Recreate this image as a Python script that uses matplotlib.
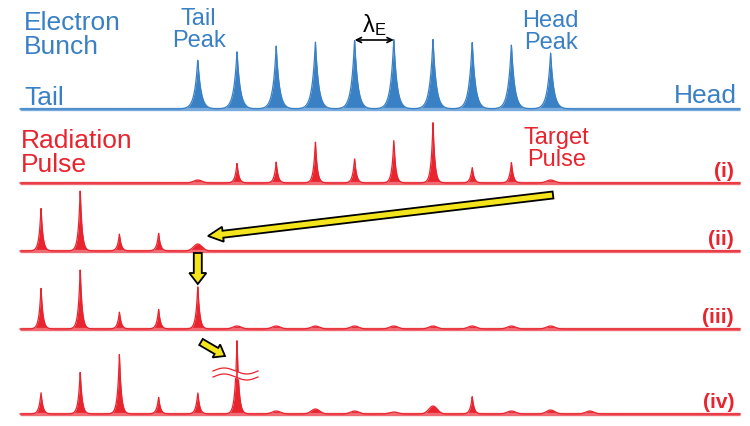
import numpy as np
import matplotlib
matplotlib.use("Agg")
import matplotlib.pyplot as plt

plt.rcParams["font.family"] = ["Liberation Sans", "DejaVu Sans"]
plt.rcParams["mathtext.fontset"] = "custom"
plt.rcParams["mathtext.rm"] = "Liberation Sans"

BLUE = "#3a80c4"
BLUE_LIGHT = "#79acdc"
RED = "#e8242e"
RED_LIGHT = "#ef6a72"
YELLOW = "#f3e41c"

# bunch spacing and slot positions (pixels along the bunch)
first_slot = 41.0
lambda_e = 39.2

# electron micro-bunches
electron_slots = [4, 5, 6, 7, 8, 9, 10, 11, 12, 13]
electron_heights = [50, 58, 63, 68, 70, 70, 70, 68, 65, 56]

# radiation pulses, panels (i)-(iv)
rad_i_slots = [4, 5, 6, 7, 8, 9, 10, 11, 12, 13]
rad_i_heights = [3, 20, 21, 42, 25, 43, 61, 16, 21, 3]

rad_ii_slots = [0, 1, 2, 3, 4]
rad_ii_heights = [44, 62, 17, 18, 7]

rad_iii_slots = [0, 1, 2, 3, 4, 5, 6, 7, 8, 9, 10, 11, 12, 13]
rad_iii_heights = [42, 61, 17, 20, 44, 3, 3, 3, 3, 3, 3, 3, 3, 3]

rad_iv_slots = [0, 1, 2, 3, 4, 5, 6, 7, 8, 9, 10, 11, 12, 13, 14]
rad_iv_heights = [22, 43, 60, 17, 22, 75, 3, 5, 3, 2, 8, 18, 3, 4, 3]

panel_labels = ["(i)", "(ii)", "(iii)", "(iv)"]

# baseline of each trace (pixel rows)
electron_base = 109
rad_bases = [183, 251, 329, 414]


def slot_x(s):
    return first_slot + lambda_e * s


def profile(x, slots, heights, width):
    y = np.zeros_like(x)
    for s, h in zip(slots, heights):
        dx = x - slot_x(s)
        if h > 8:
            y += h * np.exp(-np.abs(dx) / width)
        else:
            y += h * np.exp(-(dx / 6.0) ** 2)
    return y


def draw_trace(ax, slots, heights, base, color, light, width):
    x = np.linspace(20, 740, 4000)
    y = profile(x, slots, heights, width)
    ax.plot([20, 740], [base, base], color=light, lw=2.4, solid_capstyle="butt")
    ax.fill_between(x, base, base - y, color=color, lw=0)
    ax.plot(x, base - y, color=color, lw=0.9)


fig = plt.figure(figsize=(7.5, 4.26), dpi=100)
ax = fig.add_axes([0, 0, 1, 1])
ax.set_xlim(0, 750)
ax.set_ylim(426, 0)
ax.axis("off")

draw_trace(ax, electron_slots, electron_heights, electron_base, BLUE, BLUE_LIGHT, 3.2)

rad_sets = [
    (rad_i_slots, rad_i_heights),
    (rad_ii_slots, rad_ii_heights),
    (rad_iii_slots, rad_iii_heights),
    (rad_iv_slots, rad_iv_heights),
]
for (slots, heights), base, lab in zip(rad_sets, rad_bases, panel_labels):
    draw_trace(ax, slots, heights, base, RED, RED_LIGHT, 1.9)
    ax.text(734, base - 2, lab, color=RED, fontsize=15, fontweight="bold",
            ha="right", va="bottom")

# text labels
big = 19
small = 17
ax.text(24, 11, "Electron\nBunch", color=BLUE, fontsize=big, ha="left", va="top",
        linespacing=1.02)
ax.text(24, 105, "Tail", color=BLUE, fontsize=big, ha="left", va="baseline")
ax.text(737, 103, "Head", color=BLUE, fontsize=big, ha="right", va="baseline")
ax.text(slot_x(4) + 1, 8, "Tail\nPeak", color=BLUE, fontsize=small, ha="center", va="top",
        linespacing=0.98)
ax.text(slot_x(13), 10, "Head\nPeak", color=BLUE, fontsize=small, ha="center", va="top",
        linespacing=0.98)
ax.text(21, 129, "Radiation\nPulse", color=RED, fontsize=big, ha="left", va="top",
        linespacing=1.02)
ax.text(slot_x(13) + 6, 127, "Target\nPulse", color=RED, fontsize=small, ha="center",
        va="top", linespacing=0.98)

# lambda_E marker
ax.text(slot_x(8.5), 32, r"$\mathrm{\lambda_E}$", color="black", fontsize=17,
        ha="center", va="baseline")
ax.annotate("", xy=(slot_x(9), 40), xytext=(slot_x(8), 40),
            arrowprops=dict(arrowstyle="<->", color="black", lw=1.2,
                            shrinkA=0, shrinkB=0, mutation_scale=9))

# yellow arrows
arrow_kw = dict(length_includes_head=True, facecolor=YELLOW, edgecolor="black",
                lw=1.3, zorder=5)
ax.arrow(553, 195, 208 - 553, 236 - 195, width=7, head_width=15, head_length=15,
         **arrow_kw)
ax.arrow(slot_x(4), 253, 0, 31, width=8, head_width=17, head_length=11, **arrow_kw)
ax.arrow(201, 342, 24, 14, width=7, head_width=15, head_length=10, **arrow_kw)

# axis break on the off-scale spike
wx = np.linspace(213, 258, 200)
wave = 3.0 * np.sin((wx - 213) / 45 * 2 * np.pi)
ax.fill_between(wx, 371 - wave, 377 - wave, color="white", zorder=4)
ax.plot(wx, 371 - wave, color=RED, lw=0.9, zorder=5)
ax.plot(wx, 377 - wave, color=RED, lw=0.9, zorder=5)
ax.plot([slot_x(5), slot_x(5)], [371, 378], color=RED, lw=1.2, zorder=6)

fig.savefig("out.png", dpi=100)
